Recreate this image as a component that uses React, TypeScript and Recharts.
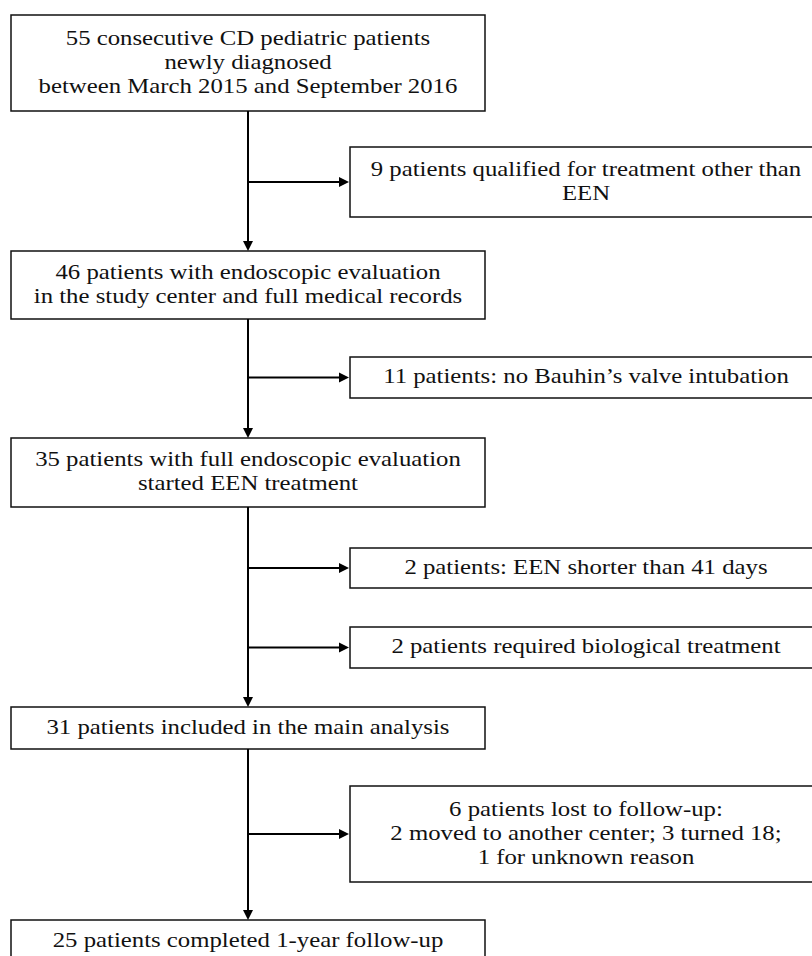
import React from 'react';
import {
  ComposedChart,
  XAxis,
  YAxis,
  Scatter,
  ReferenceArea,
  ReferenceLine,
  ReferenceDot,
} from 'recharts';

// ---- content ----
const mainLabels: string[][] = [
  ['55 consecutive CD pediatric patients', 'newly diagnosed', 'between March 2015 and September 2016'],
  ['46 patients with endoscopic evaluation', 'in the study center and full medical records'],
  ['35 patients with full endoscopic evaluation', 'started EEN treatment'],
  ['31 patients included in the main analysis'],
  ['25 patients completed 1-year follow-up'],
];

const sideLabels: string[][] = [
  ['9 patients qualified for treatment other than', 'EEN'],
  ['11 patients: no Bauhin\u2019s valve intubation'],
  ['2 patients: EEN shorter than 41 days'],
  ['2 patients required biological treatment'],
  ['6 patients lost to follow-up:', '2 moved to another center; 3 turned 18;', '1 for unknown reason'],
];

// which main step each exclusion branches from
const sideFromMain = [0, 1, 2, 2, 3];

// ---- layout (chart coordinate units) ----
const mainTop = [15, 251, 438, 707, 920];
const mainBottom = [111, 319, 507, 749, 962];
const sideTop = [147, 357, 548, 627, 786];
const sideBottom = [217, 398, 588, 668, 882];
const mainLeft = 11;
const mainRight = 485;
const sideLeft = 350;
const sideRight = 822;
const trunkX = 248;

const W = 812;
const H = 956;
const FONT = "'Liberation Serif', 'Times New Roman', serif";
const FS = 21;
const LH = 24;
const SX = 1.18;

type Node = { x: number; y: number; lines: string[] };

const nodes: Node[] = [
  ...mainLabels.map((lines, i) => ({
    x: (mainLeft + mainRight) / 2,
    y: (mainTop[i] + mainBottom[i]) / 2,
    lines,
  })),
  ...sideLabels.map((lines, i) => ({
    x: (sideLeft + sideRight) / 2,
    y: (sideTop[i] + sideBottom[i]) / 2,
    lines,
  })),
];

const NodeText = (props: any) => {
  const { cx, cy, payload } = props;
  const lines: string[] = payload.lines;
  const n = lines.length;
  return (
    <g transform={`translate(${cx} 0) scale(${SX} 1) translate(${-cx} 0)`}>
      {lines.map((t, i) => (
        <text
          key={i}
          x={cx}
          y={cy + (i - (n - 1) / 2) * LH + 6}
          textAnchor="middle"
          fontFamily={FONT}
          fontSize={FS}
          fill="#111"
        >
          {t}
        </text>
      ))}
    </g>
  );
};

const ArrowDown = (props: any) => {
  const { cx, cy } = props;
  return <path d={`M${cx - 5},${cy - 10} L${cx + 5},${cy - 10} L${cx},${cy} Z`} fill="#000" />;
};

const ArrowRight = (props: any) => {
  const { cx, cy } = props;
  return <path d={`M${cx - 10},${cy - 5} L${cx - 10},${cy + 5} L${cx},${cy} Z`} fill="#000" />;
};

export default function App() {
  const lineProps = { stroke: '#000', strokeWidth: 2, ifOverflow: 'visible' as const };
  const boxProps = {
    fill: '#fff',
    fillOpacity: 1,
    stroke: '#111',
    strokeWidth: 1.5,
    ifOverflow: 'visible' as const,
  };
  return (
    <div style={{ position: 'absolute', left: 0, top: 0, width: W, height: H, overflow: 'hidden', background: '#fff' }}>
      <ComposedChart width={W} height={H} data={nodes} margin={{ top: 0, right: 0, bottom: 0, left: 0 }}>
        <XAxis type="number" dataKey="x" domain={[0, W]} hide allowDataOverflow />
        <YAxis type="number" dataKey="y" domain={[0, H]} reversed hide allowDataOverflow />

        {/* trunk segments between main boxes */}
        {mainTop.slice(1).map((top, i) => (
          <ReferenceLine
            key={`v${i}`}
            segment={[
              { x: trunkX, y: mainBottom[i] },
              { x: trunkX, y: top - 4 },
            ]}
            {...lineProps}
          />
        ))}

        {/* branches to exclusion boxes */}
        {sideTop.map((top, i) => {
          const yMid = (top + sideBottom[i]) / 2;
          return (
            <ReferenceLine
              key={`h${i}`}
              segment={[
                { x: trunkX, y: yMid },
                { x: sideLeft - 4, y: yMid },
              ]}
              {...lineProps}
            />
          );
        })}

        {/* main boxes */}
        {mainTop.map((top, i) => (
          <ReferenceArea key={`m${i}`} x1={mainLeft} x2={mainRight} y1={top} y2={mainBottom[i]} {...boxProps} />
        ))}

        {/* exclusion boxes */}
        {sideTop.map((top, i) => (
          <ReferenceArea key={`s${i}`} x1={sideLeft} x2={sideRight} y1={top} y2={sideBottom[i]} {...boxProps} />
        ))}

        {/* arrowheads */}
        {mainTop.slice(1).map((top, i) => (
          <ReferenceDot key={`ad${i}`} x={trunkX} y={top} r={5} shape={ArrowDown} ifOverflow="visible" />
        ))}
        {sideTop.map((top, i) => (
          <ReferenceDot
            key={`ar${i}`}
            x={sideLeft - 1}
            y={(top + sideBottom[i]) / 2}
            r={5}
            shape={ArrowRight}
            ifOverflow="visible"
          />
        ))}

        <Scatter dataKey="y" isAnimationActive={false} shape={NodeText} />
      </ComposedChart>
    </div>
  );
}
